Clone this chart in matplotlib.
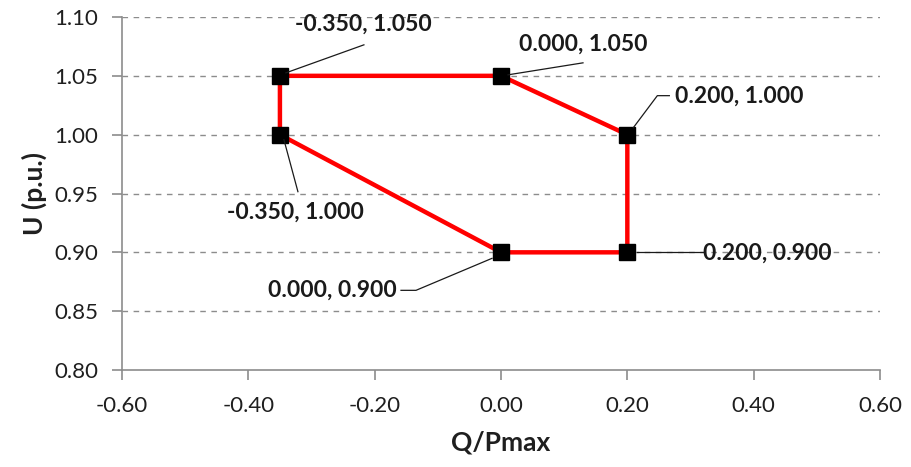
import matplotlib
matplotlib.use("Agg")
import matplotlib.pyplot as plt
import matplotlib.transforms as mtransforms

# Data
q_vals = [-0.35, 0.0, 0.2, 0.2, 0.0, -0.35, -0.35]
u_vals = [1.05, 1.05, 1.0, 0.9, 0.9, 1.0, 1.05]
point_labels = ["-0.350, 1.050", "0.000, 1.050", "0.200, 1.000",
                "0.200, 0.900", "0.000, 0.900", "-0.350, 1.000"]
x_ticks = [-0.6, -0.4, -0.2, 0.0, 0.2, 0.4, 0.6]
y_ticks = [0.80, 0.85, 0.90, 0.95, 1.00, 1.05, 1.10]

plt.rcParams['font.family'] = ['Lato', 'DejaVu Sans']

fig = plt.figure(figsize=(9.12, 4.67), dpi=100)
ax = fig.add_axes([122/912, 1-370/467, (880-122)/912, (370-17)/467])
ax.set_xlim(-0.6, 0.6)
ax.set_ylim(0.8, 1.1)

# grid
for y in y_ticks[1:]:
    ax.axhline(y, color='#8c8c8c', lw=1.0, ls=(0, (4, 4)), zorder=0)

ax.plot(q_vals, u_vals, color='#ff0000', lw=3.2, zorder=2)
ax.plot(q_vals[:-1], u_vals[:-1], ls='none', marker='s', ms=12,
        mfc='black', mec='black', zorder=3)

for s in ['top', 'right']:
    ax.spines[s].set_visible(False)
for s in ['left', 'bottom']:
    ax.spines[s].set_color('#8c8c8c')
    ax.spines[s].set_linewidth(1.2)

ax.set_xticks(x_ticks)
ax.set_yticks(y_ticks)
ax.set_xticklabels([f"{v:.2f}" for v in x_ticks])
ax.set_yticklabels([f"{v:.2f}" for v in y_ticks])
ax.tick_params(axis='both', direction='out', length=7, width=1.2,
               color='#8c8c8c', labelsize=16, labelcolor='#1f1f1f')
ax.tick_params(axis='x', pad=12)
ax.tick_params(axis='y', pad=10)

ax.set_xlabel("Q/Pmax", fontsize=19, fontweight='bold', color='#1f1f1f', labelpad=10)
ax.set_ylabel("U (p.u.)", fontsize=19, fontweight='bold', color='#1f1f1f', labelpad=5)

# leader offsets in pixels (x right, y up) relative to points; text anchor
leaders = [
    ([(6, 3), (84, 31)], (83, 52), 'center'),
    ([(7, 1), (82, 13)], (82, 32), 'center'),
    ([(6, 7), (30, 39), (42, 39)], (48, 38), 'left'),
    ([(10, 0), (77, 0)], (76, -1), 'left'),
    ([(-9, -6), (-85, -38), (-100, -38)], (-104, -38), 'right'),
    ([(4, -5), (18, -57)], (16, -78), 'center'),
]

px2pt = 72.0 / fig.dpi
for i, (xv, yv) in enumerate(zip(q_vals[:-1], u_vals[:-1])):
    segs, toff, ha = leaders[i]
    base = ax.transData.transform((xv, yv))
    tr = mtransforms.Affine2D().translate(*base)
    xs = [p[0] for p in segs]
    ys = [p[1] for p in segs]
    ax.plot(xs, ys, color='#1a1a1a', lw=0.9, transform=tr, clip_on=False, zorder=4)
    ax.annotate(point_labels[i], xy=(xv, yv),
                xytext=(toff[0]*px2pt, toff[1]*px2pt), textcoords='offset points',
                ha=ha, va='center', fontsize=16.5, fontweight='bold',
                color='#1a1a1a', zorder=5)

fig.savefig("out.png", dpi=100)
